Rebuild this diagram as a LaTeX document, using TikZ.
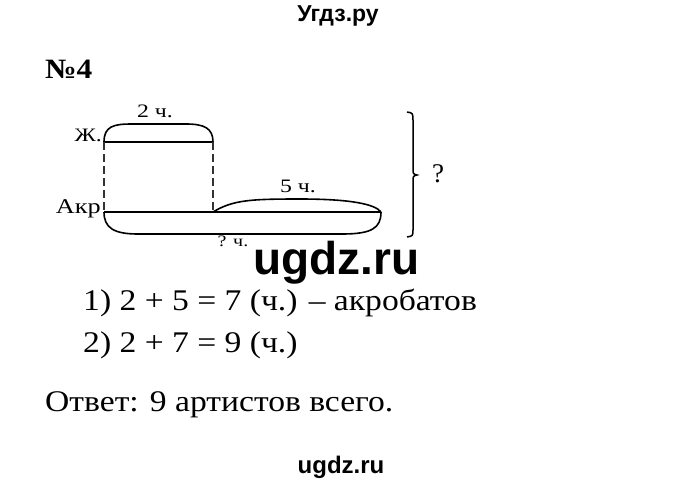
\documentclass[tikz,border=0pt]{standalone}
\usepackage{fontspec}
\setmainfont{Liberation Serif}
\newfontfamily\widefont[FakeStretch=1.12]{Liberation Serif}
\newfontfamily\lblfont[FakeStretch=1.25]{Liberation Serif}
\newfontfamily\headfont{Liberation Sans}

\tikzset{
  lbl/.style={font=\lblfont\fontsize{19}{19}\selectfont, inner sep=0pt},
  txt/.style={font=\widefont\fontsize{30}{30}\selectfont, anchor=base west, inner sep=0pt},
  seg/.style={line width=2.6pt},
  arcline/.style={line width=1.6pt},
  guide/.style={line width=1.8pt, black!80, dash pattern=on 8pt off 4pt},
}

\begin{document}
\begin{tikzpicture}[x=1pt,y=-1pt]
\useasboundingbox[fill=white] (0,0) rectangle (680,483);
\node (site) [font=\headfont\bfseries\fontsize{23}{23}\selectfont, anchor=base, inner sep=0pt] at (338,21) {Угдз.ру};
\node (num) [font=\widefont\bfseries\fontsize{28}{28}\selectfont, anchor=base west, inner sep=0pt] at (45,78) {№4};

% scheme
\coordinate (zl) at (104,142);
\coordinate (zr) at (213,142);
\coordinate (al) at (104,212);
\coordinate (am) at (213,212);
\coordinate (ar) at (381,212);
\node (zh) [lbl, anchor=base east] at (102,141) {Ж.};
\node (akr) [lbl, font=\lblfont\fontsize{21}{21}\selectfont, anchor=base east] at (101,213) {Акр};
\draw [seg] (zl) -- (zr);
\draw [seg] (al) -- (ar);
\draw [guide] (zl) -- (al);
\draw [guide] (zr) -- (am);
\draw [arcline] (zl) .. controls +(0,-16) and +(-18,0) .. (132,124) -- (186,124) .. controls +(18,0) and +(0,-14) .. (zr);
\draw [arcline] (am) .. controls +(20,-12) and +(-50,0) .. (300,199) .. controls +(50,0) and +(-6,-8) .. (ar);
\draw [arcline] (al) .. controls +(0,16) and +(-24,0) .. (138,234) -- (342,234) .. controls +(30,0) and +(0,16) .. (ar);
\node (two) [lbl, anchor=base] at (155,117) {2 ч.};
\node (five) [lbl, anchor=base] at (298,192) {5 ч.};
\node (total) [lbl, font=\lblfont\fontsize{16}{16}\selectfont, anchor=base] at (233,246) {? ч.};

% brace
\coordinate (bt) at (407,112);
\coordinate (bb) at (407,237);
\coordinate (tip) at (417,175);
\draw [line width=1.5pt] (bt) .. controls (413,113) .. (413,121) -- (413,168) .. controls (413,174) .. (tip) .. controls (413,176) .. (413,182) -- (413,229) .. controls (413,236) .. (bb);
\node (q) [font=\fontsize{27}{27}\selectfont, inner sep=0pt] at (438,174) {?};

\node (wm) [font=\headfont\bfseries\fontsize{46}{46}\selectfont, anchor=base west, inner sep=0pt] at (253,274) {ugdz.ru};

% solution
\node (s1) [txt] at (83,310) {1) 2 + 5 = 7 (ч.) – акробатов};
\node (s2) [txt] at (83,352) {2) 2 + 7 = 9 (ч.)};
\node (ans) [txt] at (45,411) {Ответ: 9 артистов всего.};

\node (foot) [font=\headfont\bfseries\fontsize{24}{24}\selectfont, anchor=base, inner sep=0pt] at (341,473) {ugdz.ru};
\end{tikzpicture}
\end{document}
